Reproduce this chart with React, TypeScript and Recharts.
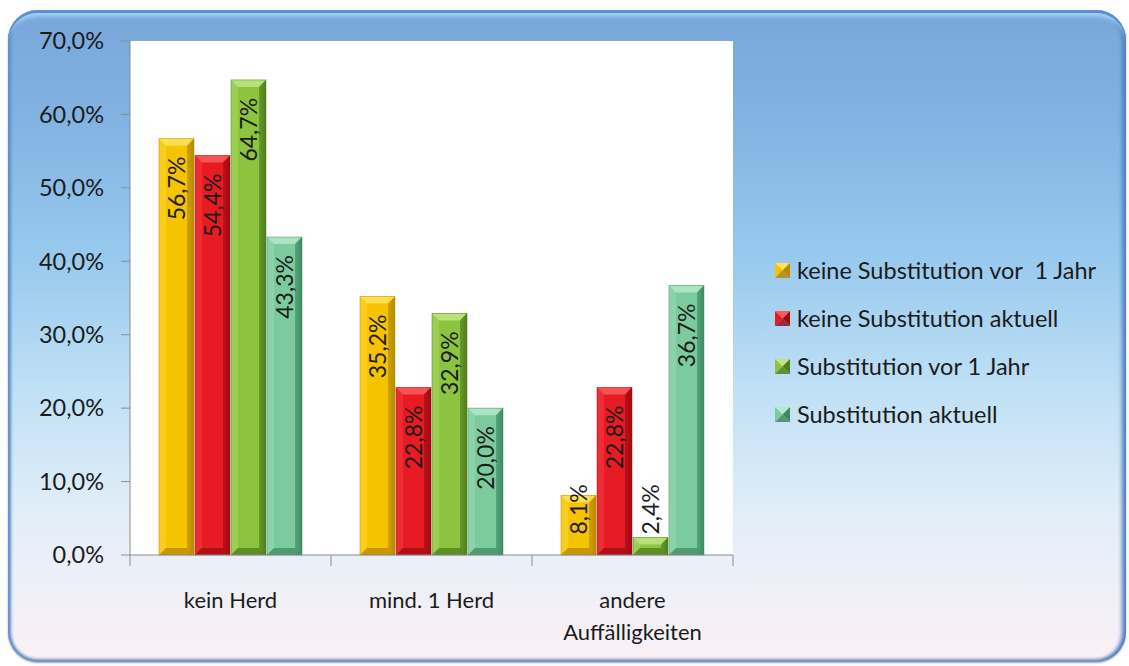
import { BarChart, Bar, XAxis, YAxis, CartesianGrid } from 'recharts';

const categories = ['kein Herd', 'mind. 1 Herd', 'andere\nAuffälligkeiten'];
const seriesNames = [
  'keine Substitution vor  1 Jahr',
  'keine Substitution aktuell',
  'Substitution vor 1 Jahr',
  'Substitution aktuell',
];
const keineVor1Jahr = [56.7, 35.2, 8.1];
const keineAktuell = [54.4, 22.8, 22.8];
const substVor1Jahr = [64.7, 32.9, 2.4];
const substAktuell = [43.3, 20.0, 36.7];
const yTicks = [0, 10, 20, 30, 40, 50, 60, 70];

const W = 1129;
const H = 666;
const PLOT_LEFT = 130;
const PLOT_RIGHT = 733;
const PLOT_TOP = 41;
const PLOT_BOTTOM = 555;
const X_AXIS_H = 30;
const FONT = 'Lato, "Open Sans", sans-serif';

// dark edge, body, highlight
const tones = [
  { dark: '#b88a00', base: '#f5c300', light: '#ffe45a' },
  { dark: '#9e0c12', base: '#e61b23', light: '#ff5a5a' },
  { dark: '#4f7e1c', base: '#8cc43f', light: '#bfe582' },
  { dark: '#3f8a62', base: '#7ccb9e', light: '#b4e8ca' },
];

const keys = ['s0', 's1', 's2', 's3'];
const seriesValues = [keineVor1Jahr, keineAktuell, substVor1Jahr, substAktuell];

const data = categories.map((name, i) => {
  const row: Record<string, number | string> = { name };
  seriesValues.forEach((vals, s) => {
    row[keys[s]] = vals[i];
  });
  return row;
});

const pct = (v: number) => v.toFixed(1).replace('.', ',') + '%';

const BevelBar = (props: any) => {
  const { x, y, width, height, idx } = props;
  if (!height || height <= 0) return null;
  const t = tones[idx];
  const b = Math.min(7, height / 2, width / 2);
  return (
    <g>
      <rect x={x} y={y} width={width} height={height} fill={`url(#body${idx})`} />
      <polygon
        points={`${x},${y} ${x + width},${y} ${x + width - b},${y + b} ${x + b},${y + b}`}
        fill={t.light}
        opacity={0.85}
      />
      <polygon
        points={`${x},${y} ${x + b},${y + b} ${x + b},${y + height - b} ${x},${y + height}`}
        fill={t.light}
        opacity={0.3}
      />
      <polygon
        points={`${x + width},${y} ${x + width - b},${y + b} ${x + width - b},${y + height - b} ${x + width},${y + height}`}
        fill={t.dark}
        opacity={0.6}
      />
      <polygon
        points={`${x},${y + height} ${x + b},${y + height - b} ${x + width - b},${y + height - b} ${x + width},${y + height}`}
        fill={t.dark}
        opacity={0.75}
      />
      <rect x={x} y={y} width={width} height={height} fill="none" stroke={t.dark} strokeWidth={0.8} opacity={0.6} />
    </g>
  );
};

const renderValueLabel = (props: any) => {
  const { x, y, width, height, value } = props;
  const text = pct(Number(value));
  const len = text.length * 13.2;
  const cx = x + width / 2;
  const top = Math.min(y + 18, y + height - 18 - len);
  return (
    <text
      x={cx}
      y={top}
      transform={`rotate(-90, ${cx}, ${top})`}
      textAnchor="end"
      dy="0.36em"
      fontFamily={FONT}
      fontSize={23}
      fill="#1b1b1b"
    >
      {text}
    </text>
  );
};

const CategoryTick = (props: any) => {
  const { x, y, payload, index } = props;
  const bw = (PLOT_RIGHT - PLOT_LEFT) / categories.length;
  const lines = String(payload.value).split('\n');
  return (
    <g>
      <line x1={x - bw / 2} y1={y} x2={x - bw / 2} y2={y + 11} stroke="#8c8c8c" />
      {index === categories.length - 1 && (
        <line x1={x + bw / 2} y1={y} x2={x + bw / 2} y2={y + 11} stroke="#8c8c8c" />
      )}
      {lines.map((ln, i) => (
        <text
          key={i}
          x={x}
          y={y + 53 + i * 32}
          textAnchor="middle"
          fontFamily={FONT}
          fontSize={22}
          fill="#1b1b1b"
        >
          {ln}
        </text>
      ))}
    </g>
  );
};

const LegendIcon = ({ idx }: { idx: number }) => {
  const t = tones[idx];
  return (
    <svg width={15} height={15} style={{ display: 'block' }}>
      <polygon points="0,0 15,0 7.5,7.5" fill={t.light} />
      <polygon points="0,0 7.5,7.5 0,15" fill={t.base} />
      <polygon points="15,0 15,15 7.5,7.5" fill={t.dark} />
      <polygon points="0,15 7.5,7.5 15,15" fill={t.dark} opacity={0.85} />
    </svg>
  );
};

const SeriesLegend = () => (
  <div
    style={{
      position: 'absolute',
      left: 775,
      top: 246,
      fontFamily: FONT,
      fontSize: 23.5,
      color: '#1b1b1b',
    }}
  >
    {seriesNames.map((n, i) => (
      <div key={n} style={{ display: 'flex', alignItems: 'center', height: 48 }}>
        <LegendIcon idx={i} />
        <span style={{ marginLeft: 7, whiteSpace: 'pre' }}>{n}</span>
      </div>
    ))}
  </div>
);

export default function App() {
  return (
    <div style={{ position: 'absolute', left: 0, top: 0, width: W, height: H, background: '#fff' }}>
      <div
        style={{
          position: 'absolute',
          left: 8,
          top: 10,
          width: 1118,
          height: 652,
          borderRadius: 30,
          background:
            'linear-gradient(to bottom, #79a6da 0%, #80b1e1 15%, #98c9ee 38%, #bfe0f5 58%, #e3eef8 78%, #fbf1f6 100%)',
          boxShadow:
            'inset 0 3px 0 #5d8fd0, inset 0 10px 4px -4px #a8d6f7, inset 3px 0 3px #5f8fcc, inset -4px 0 4px #4f80c2, inset 0 -3px 3px #8a9bc0, 0 1px 2px rgba(60,80,120,0.5)',
        }}
      />
      <BarChart
        width={W}
        height={H}
        data={data}
        margin={{ top: PLOT_TOP, right: W - PLOT_RIGHT, bottom: H - PLOT_BOTTOM - X_AXIS_H, left: 0 }}
        barSize={35}
        barGap={1}
        style={{ position: 'absolute', left: 0, top: 0 }}
      >
        <defs>
          {tones.map((t, i) => (
            <linearGradient key={i} id={`body${i}`} x1="0" y1="0" x2="1" y2="0">
              <stop offset="0%" stopColor={t.base} />
              <stop offset="80%" stopColor={t.base} />
              <stop offset="100%" stopColor={t.dark} />
            </linearGradient>
          ))}
        </defs>
        <CartesianGrid fill="#ffffff" stroke="none" horizontal={false} vertical={false} />
        <XAxis
          dataKey="name"
          height={X_AXIS_H}
          axisLine={{ stroke: '#8c8c8c' }}
          tickLine={false}
          tickSize={0}
          tickMargin={0}
          interval={0}
          tick={<CategoryTick />}
        />
        <YAxis
          width={PLOT_LEFT}
          domain={[0, 70]}
          ticks={yTicks}
          tickFormatter={pct}
          axisLine={{ stroke: '#8c8c8c' }}
          tickLine={{ stroke: '#8c8c8c' }}
          tickSize={9}
          tickMargin={17}
          tick={{ fontFamily: FONT, fontSize: 23.5, fill: '#1b1b1b' }}
        />
        {keys.map((k, i) => (
          <Bar
            key={k}
            dataKey={k}
            name={seriesNames[i]}
            fill={tones[i].base}
            isAnimationActive={false}
            shape={(p: any) => <BevelBar {...p} idx={i} />}
            label={renderValueLabel}
          />
        ))}
      </BarChart>
      <SeriesLegend />
    </div>
  );
}
